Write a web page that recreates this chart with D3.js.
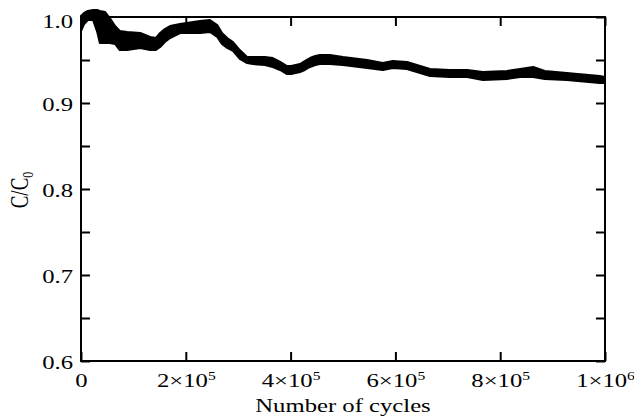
<!DOCTYPE html>
<html><head><meta charset="utf-8">
<script src="https://cdn.jsdelivr.net/npm/d3@7"></script>
<style>
body{margin:0;background:#fff}
svg{display:block}
text{font-family:"Liberation Serif","Times New Roman",serif;fill:#000}
</style>
</head><body>
<svg id="c" width="634" height="418"></svg>
<script>
// Number of cycles
const cycles = [0,6000,13000,23000,31000,36000,46000,55000,65000,74000,88000,113000,132000,143000,151000,160000,170000,189000,202000,227000,246000,260000,269000,279000,290000,303000,317000,328000,351000,366000,380000,393000,401000,418000,427000,437000,447000,456000,475000,500000,546000,576000,595000,622000,641000,666000,704000,737000,767000,813000,838000,863000,885000,927000,990000,1000000];
// upper and lower edge of the scattered C/C0 band
const cUpper = [1.0012,1.0047,1.0070,1.0081,1.0081,1.0070,1.0058,0.9988,0.9895,0.9837,0.9826,0.9814,0.9767,0.9756,0.9814,0.9860,0.9895,0.9919,0.9930,0.9953,0.9965,0.9907,0.9814,0.9756,0.9709,0.9616,0.9535,0.9535,0.9535,0.9523,0.9477,0.9430,0.9430,0.9453,0.9488,0.9523,0.9547,0.9558,0.9558,0.9535,0.9500,0.9465,0.9488,0.9477,0.9442,0.9395,0.9384,0.9384,0.9360,0.9372,0.9395,0.9419,0.9372,0.9349,0.9314,0.9302];
const cLower = [0.9837,0.9919,0.9965,0.9965,0.9826,0.9698,0.9698,0.9698,0.9686,0.9616,0.9616,0.9640,0.9616,0.9616,0.9651,0.9709,0.9756,0.9814,0.9814,0.9814,0.9826,0.9767,0.9686,0.9640,0.9605,0.9512,0.9465,0.9453,0.9442,0.9419,0.9384,0.9337,0.9337,0.9360,0.9384,0.9419,0.9442,0.9453,0.9453,0.9442,0.9407,0.9384,0.9407,0.9395,0.9360,0.9314,0.9302,0.9302,0.9267,0.9279,0.9302,0.9302,0.9279,0.9267,0.9233,0.9233];

const xTicks = [0,2e5,4e5,6e5,8e5,1e6];
const xTickMantissa = ["0","2×10","4×10","6×10","8×10","1×10"];
const xTickExp = ["","5","5","5","5","6"];
const yTicks = [0.6,0.65,0.7,0.75,0.8,0.85,0.9,0.95,1.0];
const yTickLabels = ["0.6","","0.7","","0.8","","0.9","","1.0"];

const W = 634, H = 418;
const m = {l:81, r:29, t:17, b:57};
const SX = 1.3; // horizontal text stretch seen in the original
const svg = d3.select("#c");
const x = d3.scaleLinear().domain([0,1e6]).range([m.l, W-m.r]);
const y = d3.scaleLinear().domain([0.6,1.0]).range([H-m.b, m.t]);

const data = cycles.map((c,i)=>({c, hi:cUpper[i], lo:cLower[i]}));

// axes (inward ticks on all four sides)
const fs = 19;
const gB = svg.append("g").attr("transform",`translate(0,${y(0.6)})`)
  .call(d3.axisBottom(x).tickValues(xTicks).tickSizeInner(-9).tickSizeOuter(0).tickFormat(""));
const gT = svg.append("g").attr("transform",`translate(0,${y(1.0)})`)
  .call(d3.axisTop(x).tickValues(xTicks).tickSizeInner(-9).tickSizeOuter(0).tickFormat(""));
const gL = svg.append("g").attr("transform",`translate(${x(0)},0)`)
  .call(d3.axisLeft(y).tickValues(yTicks).tickSizeInner(-9).tickSizeOuter(0).tickFormat((d,i)=>yTickLabels[i]));
const gR = svg.append("g").attr("transform",`translate(${x(1e6)},0)`)
  .call(d3.axisRight(y).tickValues(yTicks).tickSizeInner(-9).tickSizeOuter(0).tickFormat(""));
[gB,gT,gL,gR].forEach(g=>{
  g.select(".domain").remove();
  g.selectAll(".tick line").attr("stroke","#000").attr("stroke-width",2);
  g.attr("font-family",null).attr("font-size",null);
});
gT.selectAll("text").remove(); gR.selectAll("text").remove();

gL.selectAll(".tick text")
  .attr("x", -8/SX).attr("dy", null).attr("y", 7)
  .attr("transform", `scale(${SX},1)`)
  .style("font-size", fs+"px");
gL.selectAll(".tick").filter(d=>d===1.0).select("text").attr("y", 10);

gB.selectAll(".tick text").each(function(d,i){
  const t = d3.select(this);
  t.text(null).attr("dy",null).attr("y",26).attr("x",0)
   .attr("text-anchor","middle")
   .attr("transform",`scale(${SX},1)`)
   .style("font-size", fs+"px");
  t.append("tspan").text(xTickMantissa[i]);
  if (xTickExp[i]) t.append("tspan").attr("dy",-7).style("font-size","12px").text(xTickExp[i]);
});

// frame
svg.append("rect").attr("x",x(0)).attr("y",y(1.0))
  .attr("width",x(1e6)-x(0)).attr("height",y(0.6)-y(1.0))
  .attr("fill","none").attr("stroke","#000").attr("stroke-width",2);

// data band
const area = d3.area().x(d=>x(d.c)).y0(d=>y(d.lo)).y1(d=>y(d.hi));
svg.append("path").datum(data).attr("d",area)
  .attr("fill","#000").attr("stroke","#000").attr("stroke-width",2).attr("stroke-linejoin","round");

// titles
svg.append("text").attr("text-anchor","middle")
  .attr("transform",`translate(${(x(0)+x(1e6))/2},412) scale(${SX},1)`)
  .style("font-size", fs+"px").text("Number of cycles");
const yt = svg.append("text").attr("text-anchor","middle")
  .attr("transform",`translate(28,190) scale(${SX},1) rotate(-90)`)
  .style("font-size", fs+"px");
yt.append("tspan").text("C/C");
yt.append("tspan").attr("dy",4).style("font-size","12px").text("0");
</script>
</body></html>
